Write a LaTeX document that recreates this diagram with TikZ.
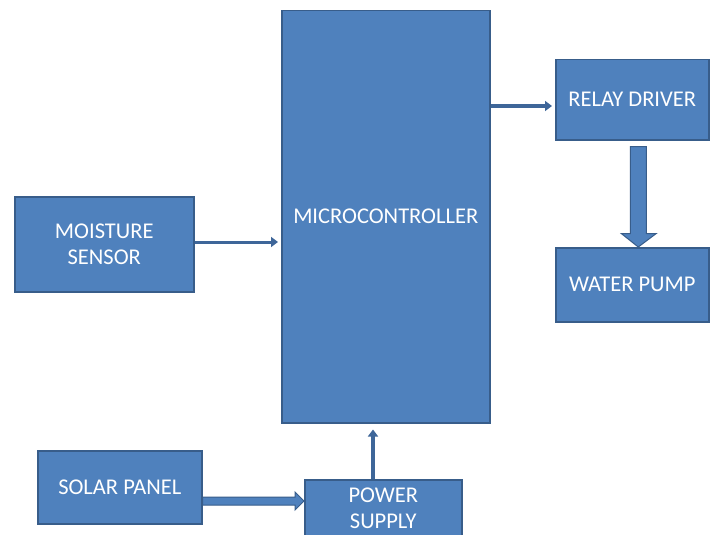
\documentclass[tikz,border=0pt]{standalone}
\usepackage{fontspec}
\setmainfont{Carlito}
\usetikzlibrary{arrows.meta,calc}
\definecolor{boxfill}{HTML}{4F81BD}
\definecolor{boxline}{HTML}{385D8A}
\definecolor{arrowcol}{HTML}{3E6699}
\begin{document}
\begin{tikzpicture}[x=1pt,y=-1pt,
  blk/.style={draw=boxline,line width=1.5pt,fill=boxfill,text=white,anchor=north west,
    align=center,inner sep=0pt,font=\fontsize{22.5}{26}\selectfont},
  conn/.style={draw=arrowcol,line width=#1,-{Triangle[length=7pt,width=10pt]}},
  conn/.default=3pt]
\useasboundingbox (0,0) rectangle (710,535);
\fill[white] (0,0) rectangle (710,535);
\node[blk,minimum width=208pt,minimum height=412pt] (micro) at (281,10) {MICROCONTROLLER};
\node[blk,minimum width=153pt,minimum height=80pt] (relay) at (555,59) {RELAY DRIVER};
\node[blk,minimum width=153pt,minimum height=74pt] (pump) at (555,247) {WATER PUMP};
\node[blk,minimum width=179pt,minimum height=95pt] (moist) at (14,196) {MOISTURE\\SENSOR};
\node[blk,minimum width=164pt,minimum height=73pt] (solar) at (37,450) {SOLAR PANEL};
\node[blk,minimum width=157pt,minimum height=58pt] (power) at (304,479) {POWER\\SUPPLY};
% moisture -> micro
\draw[conn=3pt] (moist.east |- 0,242) -- ($(micro.west |- 0,242)+(-3,0)$);
% micro -> relay
\draw[conn=4.5pt] (micro.east |- 0,106) -- ($(relay.west |- 0,106)+(-3,0)$);
% power -> micro
\draw[conn=4pt] (power.north -| 373,0) -- ($(micro.south -| 373,0)+(0,6)$);
% relay -> pump block arrow
\draw[boxline,line width=1pt,fill=boxfill]
  ($(relay.south)+(-2,6)$) -- ($(relay.south)+(14,6)$) -- ($(relay.south)+(14,93)$)
  -- ($(relay.south)+(24,93)$) -- ($(pump.north)+(6,0)$) -- ($(relay.south)+(-11,93)$)
  -- ($(relay.south)+(-2,93)$) -- cycle;
% solar -> power block arrow
\draw[boxline,line width=1pt,fill=boxfill]
  (solar.east |- 0,497) -- (295,497) -- (295,492) -- (power.west |- 0,501)
  -- (295,510) -- (295,505) -- (solar.east |- 0,505) -- cycle;
\end{tikzpicture}
\end{document}
